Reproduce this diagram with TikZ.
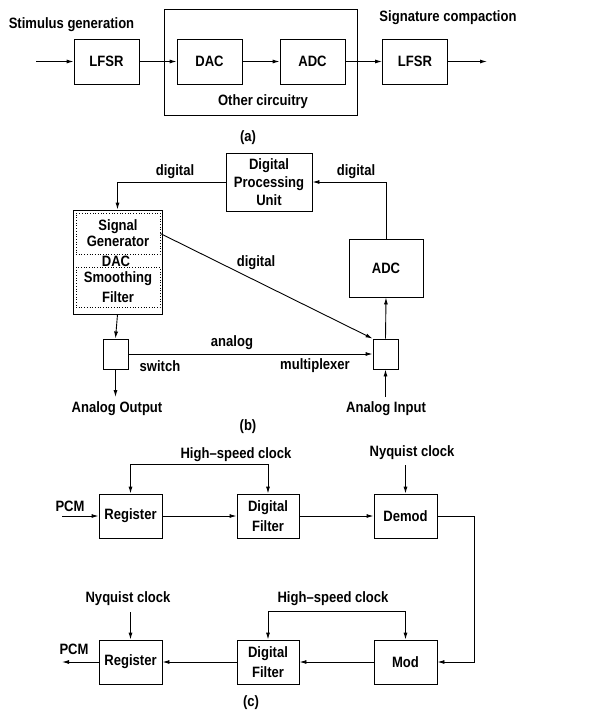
\documentclass[tikz,border=0pt]{standalone}
\usepackage{fontspec}
\setmainfont{Liberation Sans}[FakeStretch=0.87]
\usetikzlibrary{arrows.meta, positioning}
\tikzset{
  every node/.style={font=\fontsize{15}{18}\selectfont\bfseries},
  blk/.style={draw, line width=0.9pt, inner sep=0pt, align=center},
  dotblk/.style={draw, dotted, line width=0.7pt, inner sep=0pt, align=center},
  conn/.style={line width=0.9pt},
  arr/.style={conn, -{Latex[length=7pt, width=4pt]}},
  dblarr/.style={conn, {Latex[length=7pt, width=4pt]}-{Latex[length=7pt, width=4pt]}},
}

\begin{document}
\begin{tikzpicture}[x=1pt, y=-1pt]
  \useasboundingbox (0,0) rectangle (610,710);

  % (a) BIST with LFSRs
  \node[blk, minimum width=193, minimum height=106] (other) at (260.5,62) {};
  \node (othertxt) at (263,102) {Other circuitry};
  \node[blk, minimum width=65, minimum height=45] (lfsrin) at (106.5,61.5) {LFSR};
  \node[blk, minimum width=65, minimum height=45] (dacA) at (209.5,61.5) {DAC};
  \node[blk, minimum width=65, minimum height=45] (adcA) at (312.5,61.5) {ADC};
  \node[blk, minimum width=65, minimum height=45] (lfsrout) at (415,61.5) {LFSR};
  \coordinate (ain) at (36,61.5);
  \coordinate (aout) at (487,61.5);
  \draw[arr] (ain) -- (lfsrin);
  \draw[arr] (lfsrin) -- (dacA);
  \draw[arr] (dacA) -- (adcA);
  \draw[arr] (adcA) -- (lfsrout);
  \draw[arr] (lfsrout) -- (aout);
  \node (stim) at (71.5,25) {Stimulus generation};
  \node (sig) at (448,18) {Signature compaction};
  \node (capa) at (248,138) {(a)};

  % (b) loop through the processing unit
  \node[blk, minimum width=86, minimum height=58] (dpu) at (269,182) {Digital\\Processing\\Unit};
  \node[blk, minimum width=89, minimum height=104] (gen) at (117.5,262) {};
  \node[dotblk, minimum width=84, minimum height=41] (siggen) at (118,233.5) {Signal\\[-2pt]Generator};
  \node[inner sep=0pt] (dactxt) at (116,261) {DAC};
  \node[dotblk, minimum width=84, minimum height=40] (smooth) at (118,287) {Smoothing\\[2pt]Filter};
  \node[blk, minimum width=74, minimum height=58] (adcB) at (386,268) {ADC};
  \node[blk, minimum width=25, minimum height=30] (sw) at (115.5,354) {};
  \node[blk, minimum width=25, minimum height=30] (mux) at (385.5,354) {};
  \coordinate (aoutB) at (115.5,397);
  \coordinate (ainB) at (385.5,397);
  \draw[arr] (dpu.west) -| (gen.north);
  \draw[arr] (adcB.north) |- (dpu.east);
  \draw[arr] (siggen.east) -- (mux.north west);
  \draw[arr] (gen.south) -- (sw.north);
  \draw[arr] (sw.east) -- (mux.west);
  \draw[arr] (sw.south) -- (aoutB);
  \draw[arr] (ainB) -- (mux.south);
  \draw[arr] (mux.north) -- (adcB.south);
  \node (dgl) at (175,172) {digital};
  \node (dgr) at (356,172) {digital};
  \node (dgm) at (256,263) {digital};
  \node (ana) at (232,343) {analog};
  \node (swtxt) at (160,366) {switch};
  \node (muxtxt) at (315,366) {multiplexer};
  \node (aouttxt) at (117,409) {Analog Output};
  \node (aintxt) at (386,409) {Analog Input};
  \node (capb) at (248,427) {(b)};

  % (c) oversampled PCM path
  \node[blk, minimum width=63, minimum height=44] (regA) at (130.5,516) {Register};
  \node[blk, minimum width=62, minimum height=44] (dfA) at (268,516) {Digital\\[2pt]Filter};
  \node[blk, minimum width=63, minimum height=44] (demod) at (405.5,516) {Demod};
  \node[blk, minimum width=63, minimum height=44] (mod) at (405.5,662) {Mod};
  \node[blk, minimum width=62, minimum height=44] (dfB) at (268,662) {Digital\\[2pt]Filter};
  \node[blk, minimum width=63, minimum height=44] (regB) at (130.5,662) {Register};
  \coordinate (pcmin) at (62,516);
  \coordinate (pcmout) at (62,662);
  \coordinate (nyqA) at (405.5,465);
  \coordinate (nyqB) at (130.5,612);
  \draw[arr] (pcmin) -- (regA);
  \draw[arr] (regA) -- (dfA);
  \draw[arr] (dfA) -- (demod);
  \draw[arr] (demod.east) -- ++(37,0) |- (mod.east);
  \draw[arr] (mod) -- (dfB);
  \draw[arr] (dfB) -- (regB);
  \draw[arr] (regB) -- (pcmout);
  \draw[dblarr] (regA.north) -- ++(0,-29) -| (dfA.north);
  \draw[dblarr] (dfB.north) -- ++(0,-28) -| (mod.north);
  \draw[arr] (nyqA) -- (demod.north);
  \draw[arr] (nyqB) -- (regB.north);
  \node (hsA) at (236,455) {High--speed clock};
  \node (hsB) at (333,599) {High--speed clock};
  \node (nqA) at (412,453) {Nyquist clock};
  \node (nqB) at (128,599) {Nyquist clock};
  \node (pcmA) at (70,506) {PCM};
  \node (pcmB) at (74,649) {PCM};
  \node (capc) at (251,703) {(c)};
\end{tikzpicture}
\end{document}
